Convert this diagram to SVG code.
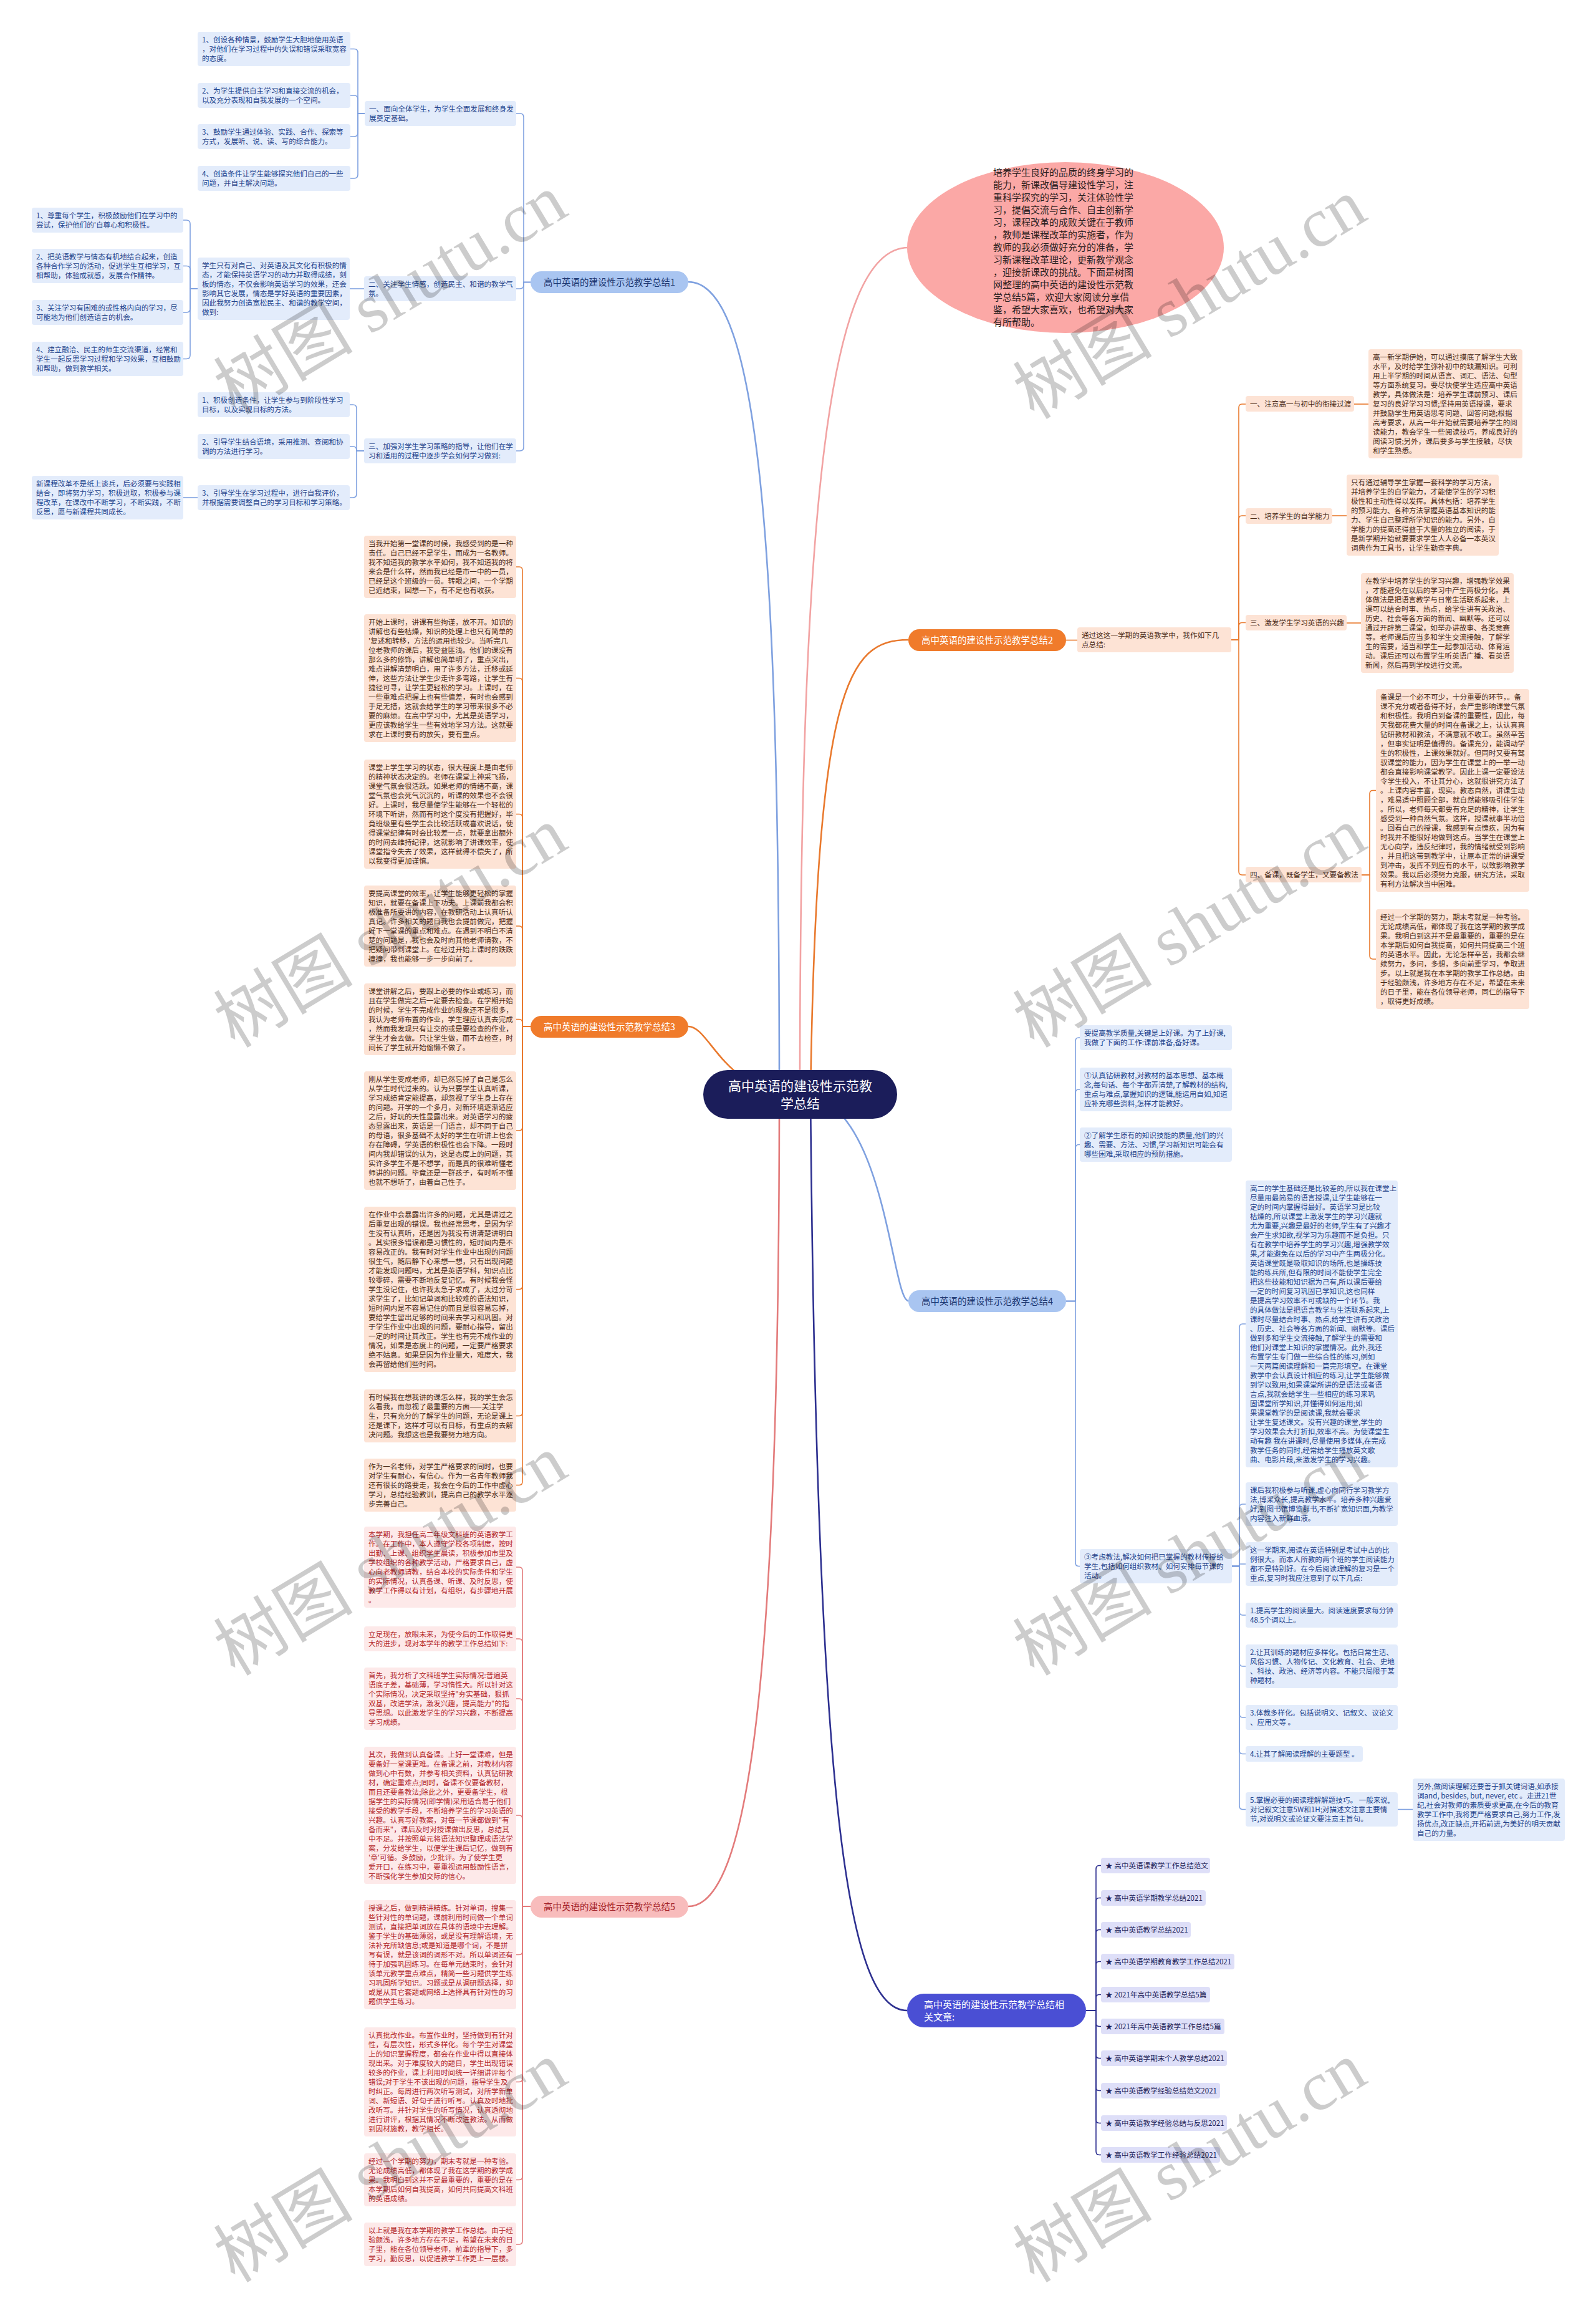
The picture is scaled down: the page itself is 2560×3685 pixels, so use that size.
<svg xmlns="http://www.w3.org/2000/svg" width="2560" height="3685" viewBox="0 0 2560 3685">
<style>
.tx{font-family:"Noto Sans CJK SC","Noto Sans",sans-serif;font-size:11.6px}
.bb{fill:#e3ecfb}.tb{fill:#23438c}
.bo{fill:#fde3d5}.to{fill:#4b2b17}
.br{fill:#fde9e9}.tr{fill:#b3272b}
.bp{fill:#dedff8}.tp{fill:#1c1c56}
.cn{fill:none;stroke-width:1.6}
.cb{stroke:#7fa1e0}.co{stroke:#e9792d}.cr{stroke:#e37b7b}.cp{stroke:#2d3090}
.main{fill:none;stroke-width:2.6}
.mt{font-family:"Noto Sans CJK SC","Noto Sans",sans-serif;font-size:14.5px;text-anchor:middle}
.wm{font-family:"Liberation Serif","Noto Sans CJK SC",serif;font-size:112px;fill:#000;fill-opacity:0.2;text-anchor:middle}
</style>
<rect width="2560" height="3685" fill="#ffffff"/>
<g id="connectors">
<path class="main" stroke="#f2a3a3" d="M1283 1755 C1283 800 1330 397 1457 397"/>
<path class="main" stroke="#7fa1e0" d="M1250 1755 C1250 900 1220 452 1104 452"/>
<path class="main" stroke="#e9792d" d="M1283 1755 C1160 1755 1140 1646 1104 1646"/>
<path class="main" stroke="#e37b7b" d="M1250 1755 C1250 2700 1200 3057 1104 3057"/>
<path class="main" stroke="#e9792d" d="M1300 1755 C1310 1100 1360 1026 1457 1026"/>
<path class="main" stroke="#7fa1e0" d="M1283 1755 C1420 1755 1430 2086 1457 2086"/>
<path class="main" stroke="#2d3090" d="M1300 1755 C1310 2900 1360 3224 1455 3224"/>
<g class="cn cb">
<path d="M851 452.5 H840 V188 Q840 182 834 182 H828"/>
<path d="M851 452.5 H840 V457 Q840 463 834 463 H828"/>
<path d="M851 452.5 H840 V717 Q840 723 834 723 H828"/>
<path d="M585 182 H574 V84.5 Q574 78.5 568 78.5 H562"/>
<path d="M585 182 H574 V159 Q574 153 568 153 H562"/>
<path d="M585 182 H574 V213 Q574 219 568 219 H562"/>
<path d="M585 182 H574 V280 Q574 286 568 286 H562"/>
<path d="M584 463 H561"/>
<path d="M317 463 H305 V359 Q305 353 299 353 H294"/>
<path d="M317 463 H305 V432.5 Q305 426.5 299 426.5 H294"/>
<path d="M317 463 H305 V495 Q305 501 299 501 H294"/>
<path d="M317 463 H305 V569.5 Q305 575.5 299 575.5 H294"/>
<path d="M584 723 H572 V655 Q572 649 566 649 H561"/>
<path d="M584 723 H572 V722 Q572 716 566 716 H561"/>
<path d="M584 723 H572 V792 Q572 798 566 798 H561"/>
<path d="M317 798 H294"/>
<path d="M1710 2086.5 H1725 V1670 Q1725 1664 1730 1664 H1732"/>
<path d="M1710 2086.5 H1725 V1753 Q1725 1747 1730 1747 H1732"/>
<path d="M1710 2086.5 H1725 V1841.5 Q1725 1835.5 1730 1835.5 H1732"/>
<path d="M1710 2086.5 H1725 V2505.5 Q1725 2511.5 1730 2511.5 H1732"/>
<path d="M1976 2511.5 H1988 V2129 Q1988 2123 1993 2123 H1998"/>
<path d="M1976 2511.5 H1988 V2418 Q1988 2412 1993 2412 H1998"/>
<path d="M1976 2511.5 H1988 V2508 H1998"/>
<path d="M1976 2511.5 H1988 V2584 Q1988 2590 1993 2590 H1998"/>
<path d="M1976 2511.5 H1988 V2666 Q1988 2672 1993 2672 H1998"/>
<path d="M1976 2511.5 H1988 V2748 Q1988 2754 1993 2754 H1998"/>
<path d="M1976 2511.5 H1988 V2806.5 Q1988 2812.5 1993 2812.5 H1998"/>
<path d="M1976 2511.5 H1988 V2895.5 Q1988 2901.5 1993 2901.5 H1998"/>
<path d="M2242 2901.5 H2266"/>
</g>
<g class="cn co">
<path d="M851 1646 H838 V915 Q838 909 833 909 H828"/>
<path d="M851 1646 H838 V1093.5 Q838 1087.5 833 1087.5 H828"/>
<path d="M851 1646 H838 V1311.5 Q838 1305.5 833 1305.5 H828"/>
<path d="M851 1646 H838 V1491 Q838 1485 833 1485 H828"/>
<path d="M851 1646 H838 V1640.5 Q838 1634.5 833 1634.5 H828"/>
<path d="M851 1646 H838 V1807 Q838 1813 833 1813 H828"/>
<path d="M851 1646 H838 V2061.5 Q838 2067.5 833 2067.5 H828"/>
<path d="M851 1646 H838 V2264.5 Q838 2270.5 833 2270.5 H828"/>
<path d="M851 1646 H838 V2375.5 Q838 2381.5 833 2381.5 H828"/>
<path d="M1710 1026.5 H1728"/>
<path d="M1975 1026 H1987 V654 Q1987 648 1992 648 H1998"/>
<path d="M1975 1026 H1987 V833 Q1987 827 1992 827 H1998"/>
<path d="M1975 1026 H1987 V1004.5 Q1987 998.5 1992 998.5 H1998"/>
<path d="M1975 1026 H1987 V1397 Q1987 1403 1992 1403 H1998"/>
<path d="M2172 648 H2195"/>
<path d="M2137 827 H2160"/>
<path d="M2160 999 H2183"/>
<path d="M2184 1403 H2197 V1273.5 Q2197 1267.5 2202 1267.5 H2207"/>
<path d="M2184 1403 H2197 V1532 Q2197 1538 2202 1538 H2207"/>
</g>
<g class="cn cr">
<path d="M851 3057 H838 V2519 Q838 2513 833 2513 H828"/>
<path d="M851 3057 H838 V2634 Q838 2628 833 2628 H828"/>
<path d="M851 3057 H838 V2730 Q838 2724 833 2724 H828"/>
<path d="M851 3057 H838 V2917 Q838 2911 833 2911 H828"/>
<path d="M851 3057 H838 V3128.5 Q838 3134.5 833 3134.5 H828"/>
<path d="M851 3057 H838 V3332.5 Q838 3338.5 833 3338.5 H828"/>
<path d="M851 3057 H838 V3489.5 Q838 3495.5 833 3495.5 H828"/>
<path d="M851 3057 H838 V3593 Q838 3599 833 3599 H828"/>
</g>
<g class="cn cp">
<path d="M1742 3224 H1758 V2997.5 Q1758 2991.5 1763 2991.5 H1766"/>
<path d="M1742 3224 H1758 V3049.5 Q1758 3043.5 1763 3043.5 H1766"/>
<path d="M1742 3224 H1758 V3100.5 Q1758 3094.5 1763 3094.5 H1766"/>
<path d="M1742 3224 H1758 V3151.5 Q1758 3145.5 1763 3145.5 H1766"/>
<path d="M1742 3224 H1758 V3204.5 Q1758 3198.5 1763 3198.5 H1766"/>
<path d="M1742 3224 H1758 V3243.5 Q1758 3249.5 1763 3249.5 H1766"/>
<path d="M1742 3224 H1758 V3294.5 Q1758 3300.5 1763 3300.5 H1766"/>
<path d="M1742 3224 H1758 V3346.5 Q1758 3352.5 1763 3352.5 H1766"/>
<path d="M1742 3224 H1758 V3398.5 Q1758 3404.5 1763 3404.5 H1766"/>
<path d="M1742 3224 H1758 V3449.5 Q1758 3455.5 1763 3455.5 H1766"/>
</g>
</g>

<g id="intro">
<ellipse cx="1709" cy="397" rx="254" ry="137" fill="#fba8a6"/>
<text class="tx" style="font-size:15px" fill="#2b2020" x="1593" y="282">
<tspan x="1593" dy="0">培养学生良好的品质的终身学习的</tspan>
<tspan x="1593" dy="20">能力，新课改倡导建设性学习，注</tspan>
<tspan x="1593" dy="20">重科学探究的学习，关注体验性学</tspan>
<tspan x="1593" dy="20">习，提倡交流与合作、自主创新学</tspan>
<tspan x="1593" dy="20">习，课程改革的成败关键在于教师</tspan>
<tspan x="1593" dy="20">，教师是课程改革的实施者，作为</tspan>
<tspan x="1593" dy="20">教师的我必须做好充分的准备，学</tspan>
<tspan x="1593" dy="20">习新课程改革理论，更新教学观念</tspan>
<tspan x="1593" dy="20">，迎接新课改的挑战。下面是树图</tspan>
<tspan x="1593" dy="20">网整理的高中英语的建设性示范教</tspan>
<tspan x="1593" dy="20">学总结5篇，欢迎大家阅读分享借</tspan>
<tspan x="1593" dy="20">鉴，希望大家喜欢，也希望对大家</tspan>
<tspan x="1593" dy="20">有所帮助。</tspan>
</text>
</g>

<g id="center">
<rect x="1128" y="1716" width="311" height="78" rx="39" fill="#1b1d5a"/>
<text class="mt" style="font-size:21px" fill="#ffffff" x="1283.5" y="1748.5"><tspan x="1283.5" dy="0">高中英语的建设性示范教</tspan><tspan x="1283.5" dy="28">学总结</tspan></text>
</g>

<g id="branch1">
<rect x="851" y="435" width="253" height="35" rx="17.5" fill="#a9c5f1"/>
<text class="mt" fill="#1b3670" x="977.5" y="457.5">高中英语的建设性示范教学总结1</text>
</g>
<g id="b1-sub1"><rect class="bb" x="585" y="162" width="243" height="40" rx="4"/>
<text class="tx tb" x="592" y="178.5"><tspan x="592" dy="0">一、面向全体学生，为学生全面发展和终身发</tspan><tspan x="592" dy="15">展奠定基础。</tspan></text></g>
<g id="b1-l1"><rect class="bb" x="317" y="51" width="245" height="55" rx="4"/>
<text class="tx tb" x="324" y="67.5"><tspan x="324" dy="0">1、创设各种情景，鼓励学生大胆地使用英语</tspan><tspan x="324" dy="15">，对他们在学习过程中的失误和错误采取宽容</tspan><tspan x="324" dy="15">的态度。</tspan></text></g>
<g id="b1-l2"><rect class="bb" x="317" y="133" width="245" height="40" rx="4"/>
<text class="tx tb" x="324" y="149.5"><tspan x="324" dy="0">2、为学生提供自主学习和直接交流的机会，</tspan><tspan x="324" dy="15">以及充分表现和自我发展的一个空间。</tspan></text></g>
<g id="b1-l3"><rect class="bb" x="317" y="199" width="245" height="40" rx="4"/>
<text class="tx tb" x="324" y="215.5"><tspan x="324" dy="0">3、鼓励学生通过体验、实践、合作、探索等</tspan><tspan x="324" dy="15">方式，发展听、说、读、写的综合能力。</tspan></text></g>
<g id="b1-l4"><rect class="bb" x="317" y="266" width="245" height="40" rx="4"/>
<text class="tx tb" x="324" y="282.5"><tspan x="324" dy="0">4、创造条件让学生能够探究他们自己的一些</tspan><tspan x="324" dy="15">问题，并自主解决问题。</tspan></text></g>
<g id="b1-sub2"><rect class="bb" x="584" y="443" width="244" height="40" rx="4"/>
<text class="tx tb" x="591" y="459.5"><tspan x="591" dy="0">二、关注学生情感，创造民主、和谐的教学气</tspan><tspan x="591" dy="15">氛。</tspan></text></g>
<g id="b1-mid"><rect class="bb" x="317" y="413" width="244" height="100" rx="4"/>
<text class="tx tb" x="324" y="429.5"><tspan x="324" dy="0">学生只有对自己、对英语及其文化有积极的情</tspan><tspan x="324" dy="15">态，才能保持英语学习的动力并取得成绩，刻</tspan><tspan x="324" dy="15">板的情态，不仅会影响英语学习的效果，还会</tspan><tspan x="324" dy="15">影响其它发展，情态是学好英语的重要因素，</tspan><tspan x="324" dy="15">因此我努力创造宽松民主、和谐的教学空间，</tspan><tspan x="324" dy="15">做到:</tspan></text></g>
<g id="b1-a"><rect class="bb" x="51" y="333" width="243" height="40" rx="4"/>
<text class="tx tb" x="58" y="349.5"><tspan x="58" dy="0">1、尊重每个学生，积极鼓励他们在学习中的</tspan><tspan x="58" dy="15">尝试，保护他们的'自尊心和积极性。</tspan></text></g>
<g id="b1-b"><rect class="bb" x="51" y="399" width="243" height="55" rx="4"/>
<text class="tx tb" x="58" y="415.5"><tspan x="58" dy="0">2、把英语教学与情态有机地结合起来，创造</tspan><tspan x="58" dy="15">各种合作学习的活动，促进学生互相学习，互</tspan><tspan x="58" dy="15">相帮助，体验成就感，发展合作精神。</tspan></text></g>
<g id="b1-c"><rect class="bb" x="51" y="481" width="243" height="40" rx="4"/>
<text class="tx tb" x="58" y="497.5"><tspan x="58" dy="0">3、关注学习有困难的或性格内向的学习，尽</tspan><tspan x="58" dy="15">可能地为他们创造语言的机会。</tspan></text></g>
<g id="b1-d"><rect class="bb" x="51" y="548" width="243" height="55" rx="4"/>
<text class="tx tb" x="58" y="564.5"><tspan x="58" dy="0">4、建立融洽、民主的师生交流渠道，经常和</tspan><tspan x="58" dy="15">学生一起反思学习过程和学习效果，互相鼓励</tspan><tspan x="58" dy="15">和帮助，做到教学相关。</tspan></text></g>
<g id="b1-sub3"><rect class="bb" x="584" y="703" width="244" height="40" rx="4"/>
<text class="tx tb" x="591" y="719.5"><tspan x="591" dy="0">三、加强对学生学习策略的指导，让他们在学</tspan><tspan x="591" dy="15">习和适用的过程中逐步学会如何学习做到:</tspan></text></g>
<g id="b1-e"><rect class="bb" x="317" y="629" width="244" height="40" rx="4"/>
<text class="tx tb" x="324" y="645.5"><tspan x="324" dy="0">1、积极创造条件，让学生参与到阶段性学习</tspan><tspan x="324" dy="15">目标，以及实现目标的方法。</tspan></text></g>
<g id="b1-f"><rect class="bb" x="317" y="696" width="244" height="40" rx="4"/>
<text class="tx tb" x="324" y="712.5"><tspan x="324" dy="0">2、引导学生结合语境，采用推测、查阅和协</tspan><tspan x="324" dy="15">调的方法进行学习。</tspan></text></g>
<g id="b1-g"><rect class="bb" x="317" y="778" width="244" height="40" rx="4"/>
<text class="tx tb" x="324" y="794.5"><tspan x="324" dy="0">3、引导学生在学习过程中，进行自我评价，</tspan><tspan x="324" dy="15">并根据需要调整自己的学习目标和学习策略。</tspan></text></g>
<g id="b1-h"><rect class="bb" x="51" y="763" width="243" height="70" rx="4"/>
<text class="tx tb" x="58" y="779.5"><tspan x="58" dy="0">新课程改革不是纸上谈兵，后必须要与实践相</tspan><tspan x="58" dy="15">结合，即将努力学习，积极进取，积极参与课</tspan><tspan x="58" dy="15">程改革，在课改中不断学习，不断实践，不断</tspan><tspan x="58" dy="15">反思，愿与新课程共同成长。</tspan></text></g>

<g id="branch3">
<rect x="851" y="1629" width="253" height="35" rx="17.5" fill="#f07b2b"/>
<text class="mt" fill="#ffffff" x="977.5" y="1651.5">高中英语的建设性示范教学总结3</text>
</g>
<g id="b3-1"><rect class="bo" x="584" y="859" width="244" height="100" rx="4"/>
<text class="tx to" x="591" y="875.5"><tspan x="591" dy="0">当我开始第一堂课的时候，我感受到的是一种</tspan><tspan x="591" dy="15">责任。自己已经不是学生，而成为一名教师。</tspan><tspan x="591" dy="15">我不知道我的教学水平如何，我不知道我的将</tspan><tspan x="591" dy="15">来会是什么样，然而我已经是市一中的一员，</tspan><tspan x="591" dy="15">已经是这个班级的一员。转眼之间，一个学期</tspan><tspan x="591" dy="15">已近结束，回想一下，有不足也有收获。</tspan></text></g>
<g id="b3-2"><rect class="bo" x="584" y="985" width="244" height="205" rx="4"/>
<text class="tx to" x="591" y="1001.5"><tspan x="591" dy="0">开始上课时，讲课有些拘谨，放不开。知识的</tspan><tspan x="591" dy="15">讲解也有些枯燥，知识的处理上也只有简单的</tspan><tspan x="591" dy="15">'复述和转移，方法的运用也较少。当听完几</tspan><tspan x="591" dy="15">位老教师的课后，我受益匪浅。他们的课没有</tspan><tspan x="591" dy="15">那么多的修饰，讲解也简单明了，重点突出，</tspan><tspan x="591" dy="15">难点讲解清楚明白，用了许多方法，迁移或延</tspan><tspan x="591" dy="15">伸，这些方法让学生少走许多弯路，让学生有</tspan><tspan x="591" dy="15">捷径可寻，让学生更轻松的学习。上课时，在</tspan><tspan x="591" dy="15">一些重难点把握上也有些偏差，有时也会感到</tspan><tspan x="591" dy="15">手足无措，这就会给学生的学习带来很多不必</tspan><tspan x="591" dy="15">要的麻烦。在高中学习中，尤其是英语学习，</tspan><tspan x="591" dy="15">更应该教给学生一些有效地学习方法。这就要</tspan><tspan x="591" dy="15">求在上课时要有的放矢，要有重点。</tspan></text></g>
<g id="b3-3"><rect class="bo" x="584" y="1218" width="244" height="175" rx="4"/>
<text class="tx to" x="591" y="1234.5"><tspan x="591" dy="0">课堂上学生学习的状态，很大程度上是由老师</tspan><tspan x="591" dy="15">的精神状态决定的。老师在课堂上神采飞扬，</tspan><tspan x="591" dy="15">课堂气氛会很活跃。如果老师的情绪不高，课</tspan><tspan x="591" dy="15">堂气氛也会死气沉沉的，听课的效果也不会很</tspan><tspan x="591" dy="15">好。上课时，我尽量使学生能够在一个轻松的</tspan><tspan x="591" dy="15">环境下听讲，然而有时这个度没有把握好，毕</tspan><tspan x="591" dy="15">竟班级里有些学生会比较活跃或喜欢说话，使</tspan><tspan x="591" dy="15">得课堂纪律有时会比较差一点，就要拿出额外</tspan><tspan x="591" dy="15">的时间去维持纪律，这就影响了讲课效率，使</tspan><tspan x="591" dy="15">课堂指令失去了效果，这样就得不偿失了，所</tspan><tspan x="591" dy="15">以我变得更加谨慎。</tspan></text></g>
<g id="b3-4"><rect class="bo" x="584" y="1420" width="244" height="130" rx="4"/>
<text class="tx to" x="591" y="1436.5"><tspan x="591" dy="0">要提高课堂的效率，让学生能够更轻松的掌握</tspan><tspan x="591" dy="15">知识，就要在备课上下功夫。上课前我都会积</tspan><tspan x="591" dy="15">极准备所要讲的内容，在教研活动上认真听认</tspan><tspan x="591" dy="15">真记。许多相关的题目我也会提前做完，把握</tspan><tspan x="591" dy="15">好下一堂课的重点和难点。在遇到不明白不清</tspan><tspan x="591" dy="15">楚的问题是，我也会及时向其他老师请教，不</tspan><tspan x="591" dy="15">把疑问带到课堂上。在经过开始上课时的跌跌</tspan><tspan x="591" dy="15">撞撞，我也能够一步一步向前了。</tspan></text></g>
<g id="b3-5"><rect class="bo" x="584" y="1577" width="244" height="115" rx="4"/>
<text class="tx to" x="591" y="1593.5"><tspan x="591" dy="0">课堂讲解之后，要跟上必要的作业或练习，而</tspan><tspan x="591" dy="15">且在学生做完之后一定要去检查。在学期开始</tspan><tspan x="591" dy="15">的时候，学生不完成作业的现象还不是很多，</tspan><tspan x="591" dy="15">我认为老师布置的作业，学生理应认真去完成</tspan><tspan x="591" dy="15">，然而我发现只有让交的或是要检查的作业，</tspan><tspan x="591" dy="15">学生才会去做。只让学生做，而不去检查，时</tspan><tspan x="591" dy="15">间长了学生就开始偷懒不做了。</tspan></text></g>
<g id="b3-6"><rect class="bo" x="584" y="1718" width="244" height="190" rx="4"/>
<text class="tx to" x="591" y="1734.5"><tspan x="591" dy="0">刚从学生变成老师，却已然忘掉了自己是怎么</tspan><tspan x="591" dy="15">从学生时代过来的。认为只要学生认真听课，</tspan><tspan x="591" dy="15">学习成绩肯定能提高，却忽视了学生身上存在</tspan><tspan x="591" dy="15">的问题。开学的一个多月，对新环境逐渐适应</tspan><tspan x="591" dy="15">之后，好玩的天性显露出来。对英语学习的疲</tspan><tspan x="591" dy="15">态显露出来，英语是一门语言，却不同于自己</tspan><tspan x="591" dy="15">的母语，很多基础不太好的学生在听讲上也会</tspan><tspan x="591" dy="15">存在障碍，学英语的积极性也会下降。一段时</tspan><tspan x="591" dy="15">间内我却错误的认为，这是态度上的问题，其</tspan><tspan x="591" dy="15">实许多学生不是不想学，而是真的很难听懂老</tspan><tspan x="591" dy="15">师讲的问题。毕竟还是一群孩子，有时听不懂</tspan><tspan x="591" dy="15">也就不想听了，由着自己性子。</tspan></text></g>
<g id="b3-7"><rect class="bo" x="584" y="1935" width="244" height="265" rx="4"/>
<text class="tx to" x="591" y="1951.5"><tspan x="591" dy="0">在作业中会暴露出许多的问题，尤其是讲过之</tspan><tspan x="591" dy="15">后重复出现的错误。我也经常思考，是因为学</tspan><tspan x="591" dy="15">生没有认真听，还是因为我没有讲清楚讲明白</tspan><tspan x="591" dy="15">。其实很多错误都是习惯性的，短时间内是不</tspan><tspan x="591" dy="15">容易改正的。我有时对学生作业中出现的问题</tspan><tspan x="591" dy="15">很生气，随后静下心来想一想，只有出现问题</tspan><tspan x="591" dy="15">才能发现问题吗，尤其是英语学科，知识点比</tspan><tspan x="591" dy="15">较零碎，需要不断地反复记忆。有时候我会怪</tspan><tspan x="591" dy="15">学生没记住，也许我太急于求成了，太过分苛</tspan><tspan x="591" dy="15">求学生了，比如记单词和比较难的语法知识，</tspan><tspan x="591" dy="15">短时间内是不容易记住的而且是很容易忘掉，</tspan><tspan x="591" dy="15">要给学生留出足够的时间来去学习和巩固。对</tspan><tspan x="591" dy="15">于学生作业中出现的问题，要耐心指导，留出</tspan><tspan x="591" dy="15">一定的时间让其改正。学生也有完不成作业的</tspan><tspan x="591" dy="15">情况，如果是态度上的问题，一定要严格要求</tspan><tspan x="591" dy="15">绝不姑息。如果是因为作业量大，难度大，我</tspan><tspan x="591" dy="15">会再留给他们些时间。</tspan></text></g>
<g id="b3-8"><rect class="bo" x="584" y="2228" width="244" height="85" rx="4"/>
<text class="tx to" x="591" y="2244.5"><tspan x="591" dy="0">有时候我在想我讲的课怎么样，我的学生会怎</tspan><tspan x="591" dy="15">么看我，而忽视了最重要的方面——关注学</tspan><tspan x="591" dy="15">生，只有充分的了解学生的问题，无论是课上</tspan><tspan x="591" dy="15">还是课下，这样才可以有目标，有重点的去解</tspan><tspan x="591" dy="15">决问题。我想这也是我要努力地方向。</tspan></text></g>
<g id="b3-9"><rect class="bo" x="584" y="2339" width="244" height="85" rx="4"/>
<text class="tx to" x="591" y="2355.5"><tspan x="591" dy="0">作为一名老师，对学生严格要求的同时，也要</tspan><tspan x="591" dy="15">对学生有耐心，有信心。作为一名青年教师我</tspan><tspan x="591" dy="15">还有很长的路要走，我会在今后的工作中虚心</tspan><tspan x="591" dy="15">学习，总结经验教训，提高自己的教学水平逐</tspan><tspan x="591" dy="15">步完善自己。</tspan></text></g>

<g id="branch5">
<rect x="851" y="3040" width="253" height="35" rx="17.5" fill="#f8bcbc"/>
<text class="mt" fill="#a3232a" x="977.5" y="3062.5">高中英语的建设性示范教学总结5</text>
</g>
<g id="b5-1"><rect class="br" x="584" y="2448" width="244" height="130" rx="4"/>
<text class="tx tr" x="591" y="2464.5"><tspan x="591" dy="0">本学期，我担任高二年级文科班的英语教学工</tspan><tspan x="591" dy="15">作。在工作中，本人遵守学校各项制度，按时</tspan><tspan x="591" dy="15">出勤、上课、组织学生晨读，积极参加市里及</tspan><tspan x="591" dy="15">学校组织的各种教学活动，严格要求自己，虚</tspan><tspan x="591" dy="15">心向老教师请教，结合本校的实际条件和学生</tspan><tspan x="591" dy="15">的实际情况，认真备课、听课、及时反思，使</tspan><tspan x="591" dy="15">教学工作得以有计划，有组织，有步骤地开展</tspan><tspan x="591" dy="15">。</tspan></text></g>
<g id="b5-2"><rect class="br" x="584" y="2608" width="244" height="40" rx="4"/>
<text class="tx tr" x="591" y="2624.5"><tspan x="591" dy="0">立足现在，放眼未来，为使今后的工作取得更</tspan><tspan x="591" dy="15">大的进步，现对本学年的教学工作总结如下:</tspan></text></g>
<g id="b5-3"><rect class="br" x="584" y="2674" width="244" height="100" rx="4"/>
<text class="tx tr" x="591" y="2690.5"><tspan x="591" dy="0">首先，我分析了文科班学生实际情况:普遍英</tspan><tspan x="591" dy="15">语底子差，基础薄，学习惰性大。所以针对这</tspan><tspan x="591" dy="15">个实际情况，决定采取坚持"夯实基础，狠抓</tspan><tspan x="591" dy="15">双基，改进学法，激发兴趣，提高能力"的指</tspan><tspan x="591" dy="15">导思想。以此激发学生的学习兴趣，不断提高</tspan><tspan x="591" dy="15">学习成绩。</tspan></text></g>
<g id="b5-4"><rect class="br" x="584" y="2801" width="244" height="220" rx="4"/>
<text class="tx tr" x="591" y="2817.5"><tspan x="591" dy="0">其次，我做到认真备课。上好一堂课难，但是</tspan><tspan x="591" dy="15">要备好一堂课更难。在备课之前，对教材内容</tspan><tspan x="591" dy="15">做到心中有数，并参考相关资料，认真钻研教</tspan><tspan x="591" dy="15">材，确定重难点;同时，备课不仅要备教材，</tspan><tspan x="591" dy="15">而且还要备教法;除此之外，更要备学生，根</tspan><tspan x="591" dy="15">据学生的实际情况(即学情)采用适合易于他们</tspan><tspan x="591" dy="15">接受的教学手段，不断培养学生的学习英语的</tspan><tspan x="591" dy="15">兴趣。认真写好教案，对每一节课都做到"有</tspan><tspan x="591" dy="15">备而来"，课后及时对授课做出反思，总结其</tspan><tspan x="591" dy="15">中不足。并按照单元将语法知识整理成语法学</tspan><tspan x="591" dy="15">案，分发给学生，以便学生课后记忆，做到有</tspan><tspan x="591" dy="15">'章'可循。多鼓励，少批评。为了使学生更</tspan><tspan x="591" dy="15">爱开口，在练习中，要重视运用鼓励性语言，</tspan><tspan x="591" dy="15">不断强化学生参加交际的信心。</tspan></text></g>
<g id="b5-5"><rect class="br" x="584" y="3047" width="244" height="175" rx="4"/>
<text class="tx tr" x="591" y="3063.5"><tspan x="591" dy="0">授课之后，做到精讲精练。针对单词，搜集一</tspan><tspan x="591" dy="15">些针对性的单词题，课前利用时间做一个单词</tspan><tspan x="591" dy="15">测试，直接把单词放在具体的语境中去理解。</tspan><tspan x="591" dy="15">鉴于学生的基础薄弱，或是没有理解语境，无</tspan><tspan x="591" dy="15">法补充所缺信息;或是知道是哪个词，不是拼</tspan><tspan x="591" dy="15">写有误，就是该词的词形不对。所以单词还有</tspan><tspan x="591" dy="15">待于加强巩固练习。在每单元结束时，会针对</tspan><tspan x="591" dy="15">该单元教学重点难点，精简一些习题供学生练</tspan><tspan x="591" dy="15">习巩固所学知识。习题或是从调研题选择，抑</tspan><tspan x="591" dy="15">或是从其它套题或网络上选择具有针对性的习</tspan><tspan x="591" dy="15">题供学生练习。</tspan></text></g>
<g id="b5-6"><rect class="br" x="584" y="3251" width="244" height="175" rx="4"/>
<text class="tx tr" x="591" y="3267.5"><tspan x="591" dy="0">认真批改作业。布置作业时，坚持做到有针对</tspan><tspan x="591" dy="15">性，有层次性，形式多样化。每个学生对课堂</tspan><tspan x="591" dy="15">上的知识掌握程度，都会在作业中得以直接体</tspan><tspan x="591" dy="15">现出来。对于难度较大的题目，学生出现错误</tspan><tspan x="591" dy="15">较多的作业，课上利用时间统一详细讲评每个</tspan><tspan x="591" dy="15">错误;对于学生不该出现的问题，指导学生及</tspan><tspan x="591" dy="15">时纠正。每周进行两次听写测试，对所学新单</tspan><tspan x="591" dy="15">词、新短语、好句子进行听写。认真及时地批</tspan><tspan x="591" dy="15">改听写。并针对学生的听写情况，认真透彻地</tspan><tspan x="591" dy="15">进行讲评，根据其情况不断改进教法。从而做</tspan><tspan x="591" dy="15">到因材施教，教学相长。</tspan></text></g>
<g id="b5-7"><rect class="br" x="584" y="3453" width="244" height="85" rx="4"/>
<text class="tx tr" x="591" y="3469.5"><tspan x="591" dy="0">经过一个学期的努力，期末考就是一种考验。</tspan><tspan x="591" dy="15">无论成绩高低，都体现了我在这学期的教学成</tspan><tspan x="591" dy="15">果。我明白到这并不是最重要的，重要的是在</tspan><tspan x="591" dy="15">本学期后如何自我提高，如何共同提高文科班</tspan><tspan x="591" dy="15">的英语成绩。</tspan></text></g>
<g id="b5-8"><rect class="br" x="584" y="3564" width="244" height="70" rx="4"/>
<text class="tx tr" x="591" y="3580.5"><tspan x="591" dy="0">以上就是我在本学期的教学工作总结。由于经</tspan><tspan x="591" dy="15">验颇浅，许多地方存在不足，希望在未来的日</tspan><tspan x="591" dy="15">子里，能在各位领导老师，前辈的指导下，多</tspan><tspan x="591" dy="15">学习，勤反思，以促进教学工作更上一层楼。</tspan></text></g>

<g id="branch2">
<rect x="1457" y="1009" width="253" height="35" rx="17.5" fill="#f07b2b"/>
<text class="mt" fill="#ffffff" x="1583.5" y="1031.5">高中英语的建设性示范教学总结2</text>
</g>
<g id="b2-label"><rect class="bo" x="1728" y="1006" width="247" height="40" rx="4"/>
<text class="tx to" x="1735" y="1022.5"><tspan x="1735" dy="0">通过这这一学期的英语教学中，我作如下几</tspan><tspan x="1735" dy="15">点总结:</tspan></text></g>
<g id="b2-s1"><rect class="bo" x="1998" y="635" width="174" height="25" rx="4"/>
<text class="tx to" x="2005" y="651.5">一、注意高一与初中的衔接过渡</text></g>
<g id="b2-s2"><rect class="bo" x="1998" y="815" width="139" height="25" rx="4"/>
<text class="tx to" x="2005" y="831.5">二、培养学生的自学能力</text></g>
<g id="b2-s3"><rect class="bo" x="1998" y="986" width="162" height="25" rx="4"/>
<text class="tx to" x="2005" y="1002.5">三、激发学生学习英语的兴趣</text></g>
<g id="b2-s4"><rect class="bo" x="1998" y="1390" width="186" height="25" rx="4"/>
<text class="tx to" x="2005" y="1406.5">四、备课，既备学生，又要备教法</text></g>
<g id="b2-t1"><rect class="bo" x="2195" y="560" width="247" height="175" rx="4"/>
<text class="tx to" x="2202" y="576.5"><tspan x="2202" dy="0">高一新学期伊始，可以通过摸底了解学生大致</tspan><tspan x="2202" dy="15">水平，及时给学生弥补初中的缺漏知识。可利</tspan><tspan x="2202" dy="15">用上半学期的时间从语言、词汇、语法、句型</tspan><tspan x="2202" dy="15">等方面系统复习。要尽快使学生适应高中英语</tspan><tspan x="2202" dy="15">教学，具体做法是：培养学生课前预习、课后</tspan><tspan x="2202" dy="15">复习的良好学习习惯;坚持用英语授课，要求</tspan><tspan x="2202" dy="15">并鼓励学生用英语思考问题、回答问题;根据</tspan><tspan x="2202" dy="15">高考要求，从高一年开始就需要培养学生的阅</tspan><tspan x="2202" dy="15">读能力，教会学生一些阅读技巧，养成良好的</tspan><tspan x="2202" dy="15">阅读习惯;另外，课后要多与学生接触，尽快</tspan><tspan x="2202" dy="15">和学生熟悉。</tspan></text></g>
<g id="b2-t2"><rect class="bo" x="2160" y="761" width="244" height="130" rx="4"/>
<text class="tx to" x="2167" y="777.5"><tspan x="2167" dy="0">只有通过辅导学生掌握一套科学的学习方法，</tspan><tspan x="2167" dy="15">并培养学生的自学能力，才能使学生的学习积</tspan><tspan x="2167" dy="15">极性和主动性得以发挥。具体包括：培养学生</tspan><tspan x="2167" dy="15">的预习能力、各种方法掌握英语基本知识的能</tspan><tspan x="2167" dy="15">力、学生自己整理所学知识的能力。另外，自</tspan><tspan x="2167" dy="15">学能力的提高还得益于大量的独立的阅读，于</tspan><tspan x="2167" dy="15">是新学期开始就要要求学生人人必备一本英汉</tspan><tspan x="2167" dy="15">词典作为工具书，让学生勤查字典。</tspan></text></g>
<g id="b2-t3"><rect class="bo" x="2183" y="919" width="245" height="160" rx="4"/>
<text class="tx to" x="2190" y="935.5"><tspan x="2190" dy="0">在教学中培养学生的学习兴趣，增强教学效果</tspan><tspan x="2190" dy="15">，才能避免在以后的学习中产生两极分化。具</tspan><tspan x="2190" dy="15">体做法是把语言教学与日常生活联系起来，上</tspan><tspan x="2190" dy="15">课可以结合时事、热点，给学生讲有关政治、</tspan><tspan x="2190" dy="15">历史、社会等各方面的新闻、幽默等。还可以</tspan><tspan x="2190" dy="15">通过开辟第二课堂，如举办讲故事、各类竞赛</tspan><tspan x="2190" dy="15">等。老师课后应当多和学生交流接触，了解学</tspan><tspan x="2190" dy="15">生的需要，适当和学生一起参加活动、体育运</tspan><tspan x="2190" dy="15">动。课后还可以布置学生听英语广播、看英语</tspan><tspan x="2190" dy="15">新闻，然后再到学校进行交流。</tspan></text></g>
<g id="b2-t4a"><rect class="bo" x="2207" y="1105" width="246" height="325" rx="4"/>
<text class="tx to" x="2214" y="1121.5"><tspan x="2214" dy="0">备课是一个必不可少，十分重要的环节，。备</tspan><tspan x="2214" dy="15">课不充分或者备得不好，会严重影响课堂气氛</tspan><tspan x="2214" dy="15">和积极性。我明白到备课的重要性，因此，每</tspan><tspan x="2214" dy="15">天我都花费大量的时间在备课之上，认认真真</tspan><tspan x="2214" dy="15">钻研教材和教法，不满意就不收工。虽然辛苦</tspan><tspan x="2214" dy="15">，但事实证明是值得的。备课充分，能调动学</tspan><tspan x="2214" dy="15">生的积极性，上课效果就好。但同时又要有驾</tspan><tspan x="2214" dy="15">驭课堂的能力，因为学生在课堂上的一举一动</tspan><tspan x="2214" dy="15">都会直接影响课堂教学。因此上课一定要设法</tspan><tspan x="2214" dy="15">令学生投入，不让其分心，这就很讲究方法了</tspan><tspan x="2214" dy="15">。上课内容丰富，现实。教态自然，讲课生动</tspan><tspan x="2214" dy="15">，难易适中照顾全部，就自然能够吸引住学生</tspan><tspan x="2214" dy="15">。所以，老师每天都要有充足的精神，让学生</tspan><tspan x="2214" dy="15">感受到一种自然气氛。这样，授课就事半功倍</tspan><tspan x="2214" dy="15">。回看自己的授课，我感到有点愧疚，因为有</tspan><tspan x="2214" dy="15">时我并不能很好地做到这点。当学生在课堂上</tspan><tspan x="2214" dy="15">无心向学，违反纪律时，我的情绪就受到影响</tspan><tspan x="2214" dy="15">，并且把这带到教学中，让原本正常的讲课受</tspan><tspan x="2214" dy="15">到冲击，发挥不到应有的水平，以致影响教学</tspan><tspan x="2214" dy="15">效果。我以后必须努力克服，研究方法，采取</tspan><tspan x="2214" dy="15">有利方法解决当中困难。</tspan></text></g>
<g id="b2-t4b"><rect class="bo" x="2207" y="1458" width="246" height="160" rx="4"/>
<text class="tx to" x="2214" y="1474.5"><tspan x="2214" dy="0">经过一个学期的努力，期末考就是一种考验。</tspan><tspan x="2214" dy="15">无论成绩高低，都体现了我在这学期的教学成</tspan><tspan x="2214" dy="15">果。我明白到这并不是最重要的，重要的是在</tspan><tspan x="2214" dy="15">本学期后如何自我提高，如何共同提高三个班</tspan><tspan x="2214" dy="15">的英语水平。因此，无论怎样辛苦，我都会继</tspan><tspan x="2214" dy="15">续努力，多问，多想，多向前辈学习，争取进</tspan><tspan x="2214" dy="15">步。以上就是我在本学期的教学工作总结。由</tspan><tspan x="2214" dy="15">于经验颇浅，许多地方存在不足，希望在未来</tspan><tspan x="2214" dy="15">的日子里，能在各位领导老师，同仁的指导下</tspan><tspan x="2214" dy="15">，取得更好成绩。</tspan></text></g>

<g id="branch4">
<rect x="1457" y="2069" width="253" height="35" rx="17.5" fill="#a9c5f1"/>
<text class="mt" fill="#1b3670" x="1583.5" y="2091.5">高中英语的建设性示范教学总结4</text>
</g>
<g id="b4-n1"><rect class="bb" x="1732" y="1644" width="244" height="40" rx="4"/>
<text class="tx tb" x="1739" y="1660.5"><tspan x="1739" dy="0">要提高教学质量,关键是上好课。为了上好课,</tspan><tspan x="1739" dy="15">我做了下面的工作:课前准备,备好课。</tspan></text></g>
<g id="b4-n2"><rect class="bb" x="1732" y="1712" width="244" height="70" rx="4"/>
<text class="tx tb" x="1739" y="1728.5"><tspan x="1739" dy="0">①认真钻研教材,对教材的基本思想、基本概</tspan><tspan x="1739" dy="15">念,每句话、每个字都弄清楚,了解教材的结构,</tspan><tspan x="1739" dy="15">重点与难点,掌握知识的逻辑,能运用自如,知道</tspan><tspan x="1739" dy="15">应补充哪些资料,怎样才能教好。</tspan></text></g>
<g id="b4-n3"><rect class="bb" x="1732" y="1808" width="244" height="55" rx="4"/>
<text class="tx tb" x="1739" y="1824.5"><tspan x="1739" dy="0">②了解学生原有的知识技能的质量,他们的兴</tspan><tspan x="1739" dy="15">趣、需要、方法、习惯,学习新知识可能会有</tspan><tspan x="1739" dy="15">哪些困难,采取相应的预防措施。</tspan></text></g>
<g id="b4-n4"><rect class="bb" x="1732" y="2484" width="244" height="55" rx="4"/>
<text class="tx tb" x="1739" y="2500.5"><tspan x="1739" dy="0">③考虑教法,解决如何把已掌握的教材传授给</tspan><tspan x="1739" dy="15">学生,包括如何组织教材、如何安排每节课的</tspan><tspan x="1739" dy="15">活动。</tspan></text></g>
<g id="b4-big"><rect class="bb" x="1998" y="1893" width="244" height="460" rx="4"/>
<text class="tx tb" x="2005" y="1909.5"><tspan x="2005" dy="0">高二的学生基础还是比较差的,所以我在课堂上</tspan><tspan x="2005" dy="15">尽量用最简易的语言授课,让学生能够在一</tspan><tspan x="2005" dy="15">定的时间内掌握得最好。英语学习是比较</tspan><tspan x="2005" dy="15">枯燥的,所以课堂上激发学生的学习兴趣就</tspan><tspan x="2005" dy="15">尤为重要,兴趣是最好的老师,学生有了兴趣才</tspan><tspan x="2005" dy="15">会产生求知欲,视学习为乐趣而不是负担。只</tspan><tspan x="2005" dy="15">有在教学中培养学生的学习兴趣,增强教学效</tspan><tspan x="2005" dy="15">果,才能避免在以后的学习中产生两极分化。</tspan><tspan x="2005" dy="15">英语课堂既是吸取知识的场所,也是操练技</tspan><tspan x="2005" dy="15">能的练兵所,但有限的时间不能使学生完全</tspan><tspan x="2005" dy="15">把这些技能和知识据为己有,所以课后要给</tspan><tspan x="2005" dy="15">一定的时间复习巩固已学知识,这也同样</tspan><tspan x="2005" dy="15">是提高学习效率不可或缺的一个环节。我</tspan><tspan x="2005" dy="15">的具体做法是把语言教学与生活联系起来,上</tspan><tspan x="2005" dy="15">课时尽量结合时事、热点,给学生讲有关政治</tspan><tspan x="2005" dy="15">、历史、社会等各方面的新闻、幽默等。课后</tspan><tspan x="2005" dy="15">做到多和学生交流接触,了解学生的需要和</tspan><tspan x="2005" dy="15">他们对课堂上知识的掌握情况。此外,我还</tspan><tspan x="2005" dy="15">布置学生专门做一些综合性的练习,例如</tspan><tspan x="2005" dy="15">一天两篇阅读理解和一篇完形填空。在课堂</tspan><tspan x="2005" dy="15">教学中会认真设计相应的练习,让学生能够做</tspan><tspan x="2005" dy="15">到学以致用;如果课堂所讲的是语法或者语</tspan><tspan x="2005" dy="15">言点,我就会给学生一些相应的练习来巩</tspan><tspan x="2005" dy="15">固课堂所学知识,并懂得如何运用;如</tspan><tspan x="2005" dy="15">果课堂教学的是阅读课,我就会要求</tspan><tspan x="2005" dy="15">让学生复述课文。没有兴趣的课堂,学生的</tspan><tspan x="2005" dy="15">学习效果会大打折扣,效率不高。为使课堂生</tspan><tspan x="2005" dy="15">动有趣 我在讲课时,尽量使用多媒体,在完成</tspan><tspan x="2005" dy="15">教学任务的同时,经常给学生播放英文歌</tspan><tspan x="2005" dy="15">曲、电影片段,来激发学生的学习兴趣。</tspan></text></g>
<g id="b4-r1"><rect class="bb" x="1998" y="2377" width="244" height="70" rx="4"/>
<text class="tx tb" x="2005" y="2393.5"><tspan x="2005" dy="0">课后我积极参与听课,虚心向同行学习教学方</tspan><tspan x="2005" dy="15">法,博采众长,提高教学水平。培养多种兴趣爱</tspan><tspan x="2005" dy="15">好,到图书馆博览群书,不断扩宽知识面,为教学</tspan><tspan x="2005" dy="15">内容注入新鲜血液。</tspan></text></g>
<g id="b4-r2"><rect class="bb" x="1998" y="2473" width="244" height="70" rx="4"/>
<text class="tx tb" x="2005" y="2489.5"><tspan x="2005" dy="0">这一学期来,阅读在英语特别是考试中占的比</tspan><tspan x="2005" dy="15">例很大。而本人所教的两个班的学生阅读能力</tspan><tspan x="2005" dy="15">都不是特别好。在今后阅读理解的复习是一个</tspan><tspan x="2005" dy="15">重点,复习时我应注意到了以下几点:</tspan></text></g>
<g id="b4-r3"><rect class="bb" x="1998" y="2570" width="244" height="40" rx="4"/>
<text class="tx tb" x="2005" y="2586.5"><tspan x="2005" dy="0">1.提高学生的阅读量大。阅读速度要求每分钟</tspan><tspan x="2005" dy="15">48.5个词以上。</tspan></text></g>
<g id="b4-r4"><rect class="bb" x="1998" y="2637" width="244" height="70" rx="4"/>
<text class="tx tb" x="2005" y="2653.5"><tspan x="2005" dy="0">2.让其训练的题材应多样化。包括日常生活、</tspan><tspan x="2005" dy="15">风俗习惯、人物传记、文化教育、社会、史地</tspan><tspan x="2005" dy="15">、科技、政治、经济等内容。不能只局限于某</tspan><tspan x="2005" dy="15">种题材。</tspan></text></g>
<g id="b4-r5"><rect class="bb" x="1998" y="2734" width="244" height="40" rx="4"/>
<text class="tx tb" x="2005" y="2750.5"><tspan x="2005" dy="0">3.体裁多样化。包括说明文、记叙文、议论文</tspan><tspan x="2005" dy="15">、应用文等 。</tspan></text></g>
<g id="b4-r6"><rect class="bb" x="1998" y="2800" width="188" height="25" rx="4"/>
<text class="tx tb" x="2005" y="2816.5">4.让其了解阅读理解的主要题型 。</text></g>
<g id="b4-r7"><rect class="bb" x="1998" y="2874" width="244" height="55" rx="4"/>
<text class="tx tb" x="2005" y="2890.5"><tspan x="2005" dy="0">5.掌握必要的阅读理解解题技巧。 一般来说,</tspan><tspan x="2005" dy="15">对记叙文注意5W和1H;对描述文注意主要情</tspan><tspan x="2005" dy="15">节,对说明文或论证文要注意主旨句。</tspan></text></g>
<g id="b4-r8"><rect class="bb" x="2266" y="2852" width="244" height="100" rx="4"/>
<text class="tx tb" x="2273" y="2868.5"><tspan x="2273" dy="0">另外,做阅读理解还要善于抓关键词语,如承接</tspan><tspan x="2273" dy="15">词and, besides, but, never, etc 。走进21世</tspan><tspan x="2273" dy="15">纪,社会对教师的素质要求更高,在今后的教育</tspan><tspan x="2273" dy="15">教学工作中,我将更严格要求自己,努力工作,发</tspan><tspan x="2273" dy="15">扬优点,改正缺点,开拓前进,为美好的明天贡献</tspan><tspan x="2273" dy="15">自己的力量。</tspan></text></g>

<g id="branch6">
<rect x="1455" y="3197" width="287" height="54" rx="27" fill="#4a4fd4"/>
<text class="tx" style="font-size:15px" fill="#ffffff" x="1482" y="3220"><tspan x="1482" dy="0">高中英语的建设性示范教学总结相</tspan><tspan x="1482" dy="20">关文章:</tspan></text>
</g>
<g id="b6-1"><rect class="bp" x="1766" y="2979" width="175" height="25" rx="4"/><text class="tx tp" x="1773" y="2995.5">★ 高中英语课教学工作总结范文</text></g>
<g id="b6-2"><rect class="bp" x="1766" y="3031" width="168" height="25" rx="4"/><text class="tx tp" x="1773" y="3047.5">★ 高中英语学期教学总结2021</text></g>
<g id="b6-3"><rect class="bp" x="1766" y="3082" width="144" height="25" rx="4"/><text class="tx tp" x="1773" y="3098.5">★ 高中英语教学总结2021</text></g>
<g id="b6-4"><rect class="bp" x="1766" y="3133" width="214" height="25" rx="4"/><text class="tx tp" x="1773" y="3149.5">★ 高中英语学期教育教学工作总结2021</text></g>
<g id="b6-5"><rect class="bp" x="1766" y="3186" width="175" height="25" rx="4"/><text class="tx tp" x="1773" y="3202.5">★ 2021年高中英语教学总结5篇</text></g>
<g id="b6-6"><rect class="bp" x="1766" y="3237" width="198" height="25" rx="4"/><text class="tx tp" x="1773" y="3253.5">★ 2021年高中英语教学工作总结5篇</text></g>
<g id="b6-7"><rect class="bp" x="1766" y="3288" width="202" height="25" rx="4"/><text class="tx tp" x="1773" y="3304.5">★ 高中英语学期末个人教学总结2021</text></g>
<g id="b6-8"><rect class="bp" x="1766" y="3340" width="191" height="25" rx="4"/><text class="tx tp" x="1773" y="3356.5">★ 高中英语教学经验总结范文2021</text></g>
<g id="b6-9"><rect class="bp" x="1766" y="3392" width="202" height="25" rx="4"/><text class="tx tp" x="1773" y="3408.5">★ 高中英语教学经验总结与反思2021</text></g>
<g id="b6-10"><rect class="bp" x="1766" y="3443" width="191" height="25" rx="4"/><text class="tx tp" x="1773" y="3459.5">★ 高中英语教学工作经验总结2021</text></g>

<g id="watermark">
<text class="wm" transform="translate(646 505) rotate(-31)">树图 shutu.cn</text>
<text class="wm" transform="translate(1928 512) rotate(-31)">树图 shutu.cn</text>
<text class="wm" transform="translate(646 1520) rotate(-31)">树图 shutu.cn</text>
<text class="wm" transform="translate(1928 1520) rotate(-31)">树图 shutu.cn</text>
<text class="wm" transform="translate(646 2527) rotate(-31)">树图 shutu.cn</text>
<text class="wm" transform="translate(1928 2527) rotate(-31)">树图 shutu.cn</text>
<text class="wm" transform="translate(646 3500) rotate(-31)">树图 shutu.cn</text>
<text class="wm" transform="translate(1928 3500) rotate(-31)">树图 shutu.cn</text>
</g>
</svg>
